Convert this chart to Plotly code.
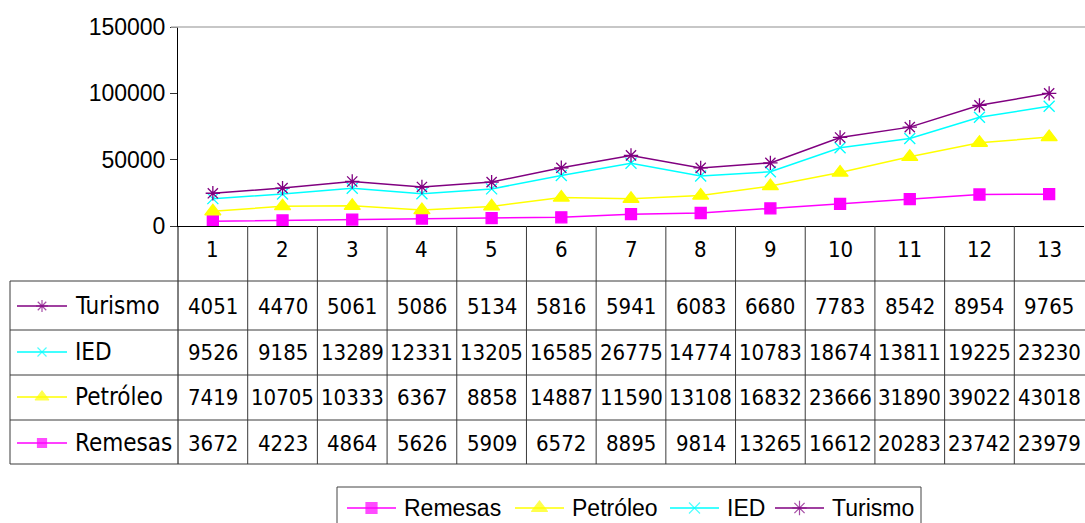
import plotly.graph_objects as go

# ---------------- data ----------------
categories = [1, 2, 3, 4, 5, 6, 7, 8, 9, 10, 11, 12, 13]
series_names = ["Remesas", "Petróleo", "IED", "Turismo"]
remesas = [3672, 4223, 4864, 5626, 5909, 6572, 8895, 9814, 13265, 16612, 20283, 23742, 23979]
petroleo = [7419, 10705, 10333, 6367, 8858, 14887, 11590, 13108, 16832, 23666, 31890, 39022, 43018]
ied = [9526, 9185, 13289, 12331, 13205, 16585, 26775, 14774, 10783, 18674, 13811, 19225, 23230]
turismo = [4051, 4470, 5061, 5086, 5134, 5816, 5941, 6083, 6680, 7783, 8542, 8954, 9765]
y_ticks = [0, 50000, 100000, 150000]

# ---------------- style ----------------
W, H = 1085, 523
PL, PR, PT, PB = 178, 1084, 27, 226          # plot area in pixels
TABLE_L = 10
ROW_EDGES = [226, 281, 330, 375, 420, 464]    # header + 4 rows
ROW_TEXT_Y = [249, 306, 352, 397, 443]
TABLE_FONT = "DejaVu Sans Condensed, DejaVu Sans, sans-serif"
ARIAL = "Liberation Sans, Arial, sans-serif"
LINE_COL = "#3a3a3a"

# legend (drawn manually) layout in pixels
LEG_BOX = (337, 487, 921, 530)
LEG_ITEM_X = [347, 515, 670, 775]
LEG_LINE_LEN = 49
LEG_Y = 508

styles = {
    "Remesas": dict(color="#FF00FF", symbol="square", size=11),
    "Petróleo": dict(color="#FFFF00", symbol="triangle-up", size=14),
    "IED": dict(color="#00FFFF", symbol="x-thin-open", size=11),
    "Turismo": dict(color="#800080", symbol="asterisk-open", size=12),
}
values = {"Remesas": remesas, "Petróleo": petroleo, "IED": ied, "Turismo": turismo}


def px_x(p):
    return p / W


def px_y(p):
    return 1 - p / H


fig = go.Figure()

# stacked lines
for name in series_names:
    st = styles[name]
    fig.add_trace(go.Scatter(
        x=categories, y=values[name], name=name, stackgroup="one", fill="none",
        mode="lines+markers", showlegend=False,
        line=dict(color=st["color"], width=1.5),
        marker=dict(symbol=st["symbol"], size=st["size"], color=st["color"],
                    line=dict(color=st["color"], width=1.3)),
        xaxis="x", yaxis="y",
    ))

# table row order (top to bottom)
table_rows = ["Turismo", "IED", "Petróleo", "Remesas"]


def add_key(name, x0, length, yy, msize_delta=0):
    st = styles[name]
    fig.add_trace(go.Scatter(
        x=[x0, x0 + length / 2, x0 + length], y=[yy, yy, yy], mode="lines+markers",
        showlegend=False,
        line=dict(color=st["color"], width=1.3),
        marker=dict(symbol=st["symbol"], size=[0, st["size"] + msize_delta, 0], color=st["color"],
                    line=dict(color=st["color"], width=1.2)),
        xaxis="x2", yaxis="y2", hoverinfo="skip",
    ))


# keys inside table label column
for i, name in enumerate(table_rows):
    add_key(name, 17, 50, ROW_TEXT_Y[i + 1], -2)

# bottom legend keys
for name, x0 in zip(series_names, LEG_ITEM_X):
    add_key(name, x0, LEG_LINE_LEN, LEG_Y, 0)

shapes = []
# top border (gray)
shapes.append(dict(type="line", xref="paper", yref="paper", x0=px_x(171), x1=1,
                   y0=px_y(PT), y1=px_y(PT), line=dict(color="#b4b4b4", width=1.5)))
# y-axis extension down through the table
shapes.append(dict(type="line", xref="paper", yref="paper", x0=px_x(PL), x1=px_x(PL),
                   y0=px_y(PB), y1=px_y(ROW_EDGES[-1]), line=dict(color="black", width=1)))
# horizontal row lines
for r in ROW_EDGES[1:]:
    shapes.append(dict(type="line", xref="paper", yref="paper", x0=px_x(TABLE_L), x1=1,
                       y0=px_y(r), y1=px_y(r), line=dict(color=LINE_COL, width=1)))
# left border of label column
shapes.append(dict(type="line", xref="paper", yref="paper", x0=px_x(TABLE_L), x1=px_x(TABLE_L),
                   y0=px_y(ROW_EDGES[1]), y1=px_y(ROW_EDGES[-1]), line=dict(color=LINE_COL, width=1)))
# vertical column lines, positioned on the category axis
for c in categories[:-1]:
    shapes.append(dict(type="line", xref="x", yref="paper", x0=c + 0.5, x1=c + 0.5,
                       y0=px_y(PB), y1=px_y(ROW_EDGES[-1]), line=dict(color=LINE_COL, width=1)))
# legend box
shapes.append(dict(type="rect", xref="paper", yref="paper",
                   x0=px_x(LEG_BOX[0]), x1=px_x(LEG_BOX[2]), y0=px_y(LEG_BOX[3]), y1=px_y(LEG_BOX[1]),
                   line=dict(color="#444", width=1), fillcolor="rgba(0,0,0,0)", layer="below"))

annotations = []
# category header
for c in categories:
    annotations.append(dict(x=c, y=px_y(ROW_TEXT_Y[0]), xref="x", yref="paper", text=str(c),
                            showarrow=False, font=dict(family=TABLE_FONT, size=22, color="black"),
                            xanchor="center", yanchor="middle"))
# rows
for i, name in enumerate(table_rows):
    yy = px_y(ROW_TEXT_Y[i + 1])
    annotations.append(dict(x=px_x(73), y=yy, xref="paper", yref="paper", text=name,
                            showarrow=False, font=dict(family=TABLE_FONT, size=24, color="black"),
                            xanchor="left", yanchor="middle"))
    for c, v in zip(categories, values[name]):
        annotations.append(dict(x=c, y=yy, xref="x", yref="paper", text=str(v),
                                showarrow=False, font=dict(family=TABLE_FONT, size=22, color="black"),
                                xanchor="center", yanchor="middle"))
# legend texts
for name, x0 in zip(series_names, LEG_ITEM_X):
    annotations.append(dict(x=px_x(x0 + LEG_LINE_LEN + 6), y=px_y(LEG_Y), xref="paper", yref="paper",
                            text=name, showarrow=False, font=dict(family=ARIAL, size=23, color="black"),
                            xanchor="left", yanchor="middle"))

fig.update_layout(
    template="none",
    width=W, height=H,
    margin=dict(l=0, r=0, t=0, b=0),
    paper_bgcolor="white", plot_bgcolor="rgba(0,0,0,0)",
    xaxis=dict(domain=[px_x(PL), px_x(PR)], range=[0.5, 13.5], showgrid=False, zeroline=False,
               showticklabels=False, ticks="", showline=True, linecolor="black", linewidth=1,
               anchor="y", automargin=False, fixedrange=True),
    yaxis=dict(domain=[px_y(PB), px_y(PT)], range=[0, 150000], tickvals=y_ticks,
               ticktext=[str(t) for t in y_ticks], showgrid=False, zeroline=False,
               showline=True, linecolor="black", linewidth=1, ticks="outside", ticklen=7,
               tickcolor="#333", tickfont=dict(family=ARIAL, size=23, color="black"),
               anchor="x", automargin=False, fixedrange=True),
    xaxis2=dict(domain=[0, 1], range=[0, W], visible=False, anchor="y2", fixedrange=True),
    yaxis2=dict(domain=[0, 1], range=[H, 0], visible=False, anchor="x2", fixedrange=True),
    showlegend=False,
    shapes=shapes,
    annotations=annotations,
)

fig.write_html("out.html", config={"displayModeBar": False},
               post_script="document.body.style.margin='0';")
